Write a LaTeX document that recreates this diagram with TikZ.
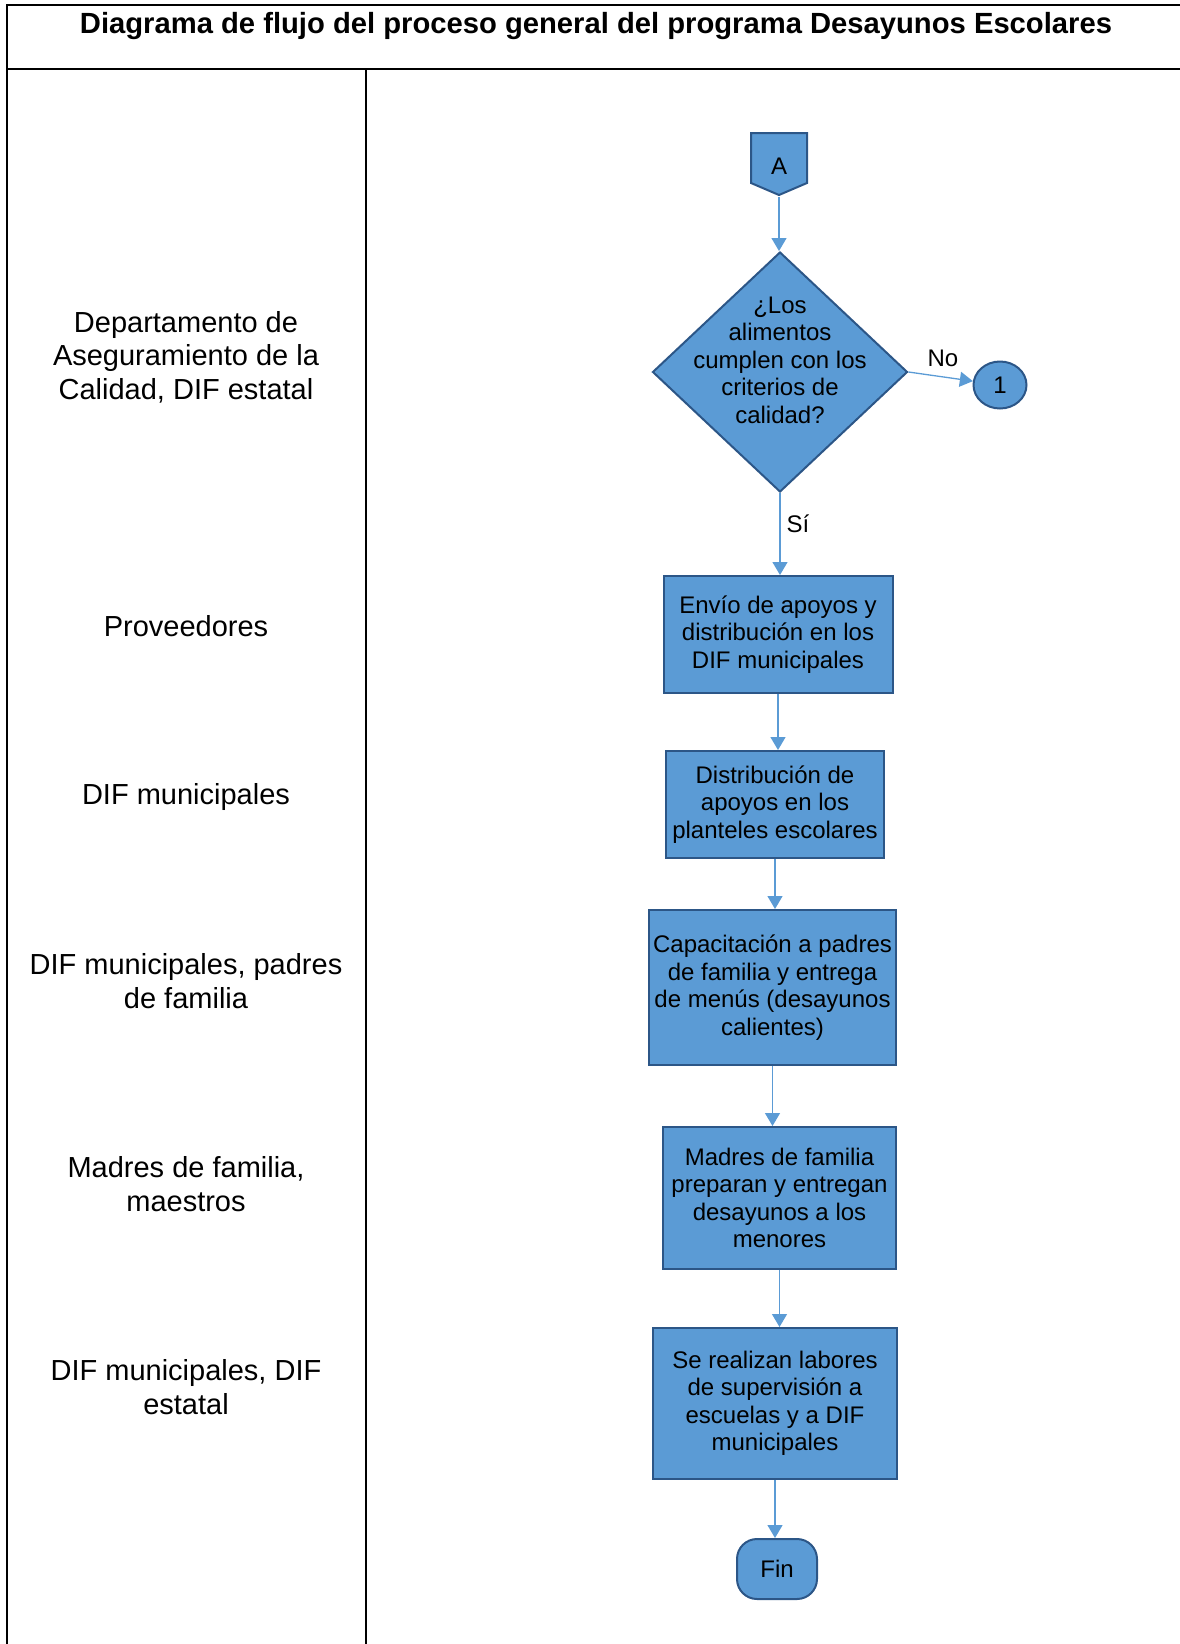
\documentclass[tikz,border=0pt]{standalone}
\usepackage{fontspec}
\setmainfont{Liberation Sans}
\usetikzlibrary{arrows.meta,shapes.geometric}
\definecolor{boxfill}{HTML}{5B9BD5}
\definecolor{boxline}{HTML}{2C5687}
\definecolor{flowline}{HTML}{5B9BD5}

\begin{document}
\begin{tikzpicture}[x=1pt,y=-1pt,>={Triangle[length=13pt,width=15pt]},
    proc/.style={draw=boxline,fill=boxfill,line width=2pt,align=center,inner sep=2pt,
      font=\fontsize{24}{27.5}\selectfont},
    txt/.style={align=center,font=\fontsize{24}{27.5}\selectfont},
    flow/.style={->,draw=flowline,line width=1.3pt},
    lane/.style={align=center,font=\fontsize{29}{33.5}\selectfont},
    grid/.style={line width=2.2pt}]
  \useasboundingbox (0,0) rectangle (1180,1644);
  \draw[grid] (6,5) -- (1180,5);
  \draw[grid] (6,69) -- (1180,69);
  \draw[grid] (7,4) -- (7,1644);
  \draw[grid] (366,69) -- (366,1644);
  \node[anchor=base,font=\fontsize{29.2}{33.5}\selectfont\bfseries] (title) at (596,33)
    {Diagrama de flujo del proceso general del programa Desayunos Escolares};

  \node[lane] (lane1) at (186,357) {Departamento de\\Aseguramiento de la\\Calidad, DIF estatal};
  \node[lane] (lane2) at (186,626) {Proveedores};
  \node[lane] (lane3) at (186,797) {DIF municipales};
  \node[lane] (lane4) at (186,981) {DIF municipales, padres\\de familia};
  \node[lane] (lane5) at (186,1184) {Madres de familia,\\maestros};
  \node[lane] (lane6) at (186,1387) {DIF municipales, DIF\\estatal};

  \draw[draw=boxline,fill=boxfill,line width=2pt]
    (751,133) -- (807,133) -- (807,183) -- (779,195) -- (751,183) -- cycle;
  \node[txt,minimum width=56pt,minimum height=62pt,inner sep=0pt] (A) at (779,166) {A};
  \node[proc,shape=diamond,minimum width=255pt,minimum height=240pt,inner sep=0pt] (q) at (780,372) {};
  \node[txt] (qtext) at (780,360) {¿Los\\alimentos\\cumplen con los\\criterios de\\calidad?};
  \node[proc,shape=ellipse,minimum width=53pt,minimum height=47pt,inner sep=0pt] (c1) at (1000,385) {1};
  \node[txt] (no) at (943,358) {No};
  \node[txt] (si) at (798,524) {Sí};
  \node[proc,minimum width=229pt,minimum height=117pt] (p1) at (778,634.5)
    {Envío de apoyos y\\distribución en los\\DIF municipales};
  \node[proc,minimum width=218pt,minimum height=107pt] (p2) at (775,804.5)
    {Distribución de\\apoyos en los\\planteles escolares};
  \node[proc,minimum width=247pt,minimum height=155pt] (p3) at (772.5,987.5)
    {Capacitación a padres\\de familia y entrega\\de menús (desayunos\\calientes)};
  \node[proc,minimum width=233pt,minimum height=142pt] (p4) at (779.5,1198)
    {Madres de familia\\preparan y entregan\\desayunos a los\\menores};
  \node[proc,minimum width=244pt,minimum height=151pt] (p5) at (775,1403.5)
    {Se realizan labores\\de supervisión a\\escuelas y a DIF\\municipales};
  \node[proc,rounded corners=20pt,minimum width=80pt,minimum height=60pt] (fin) at (777,1569) {Fin};

  \draw[flow] (A.south) -- (A.south |- q.north);
  \draw[flow] (q.east) -- (c1);
  \draw[flow] (q.south) -- (q.south |- p1.north);
  \draw[flow] (p1.south) -- (p1.south |- p2.north);
  \draw[flow] (p2.south) -- (p2.south |- p3.north);
  \draw[flow] (p3.south) -- (p3.south |- p4.north);
  \draw[flow] (p4.south) -- (p4.south |- p5.north);
  \draw[flow] (p5.south) -- (p5.south |- fin.north);
\end{tikzpicture}
\end{document}
